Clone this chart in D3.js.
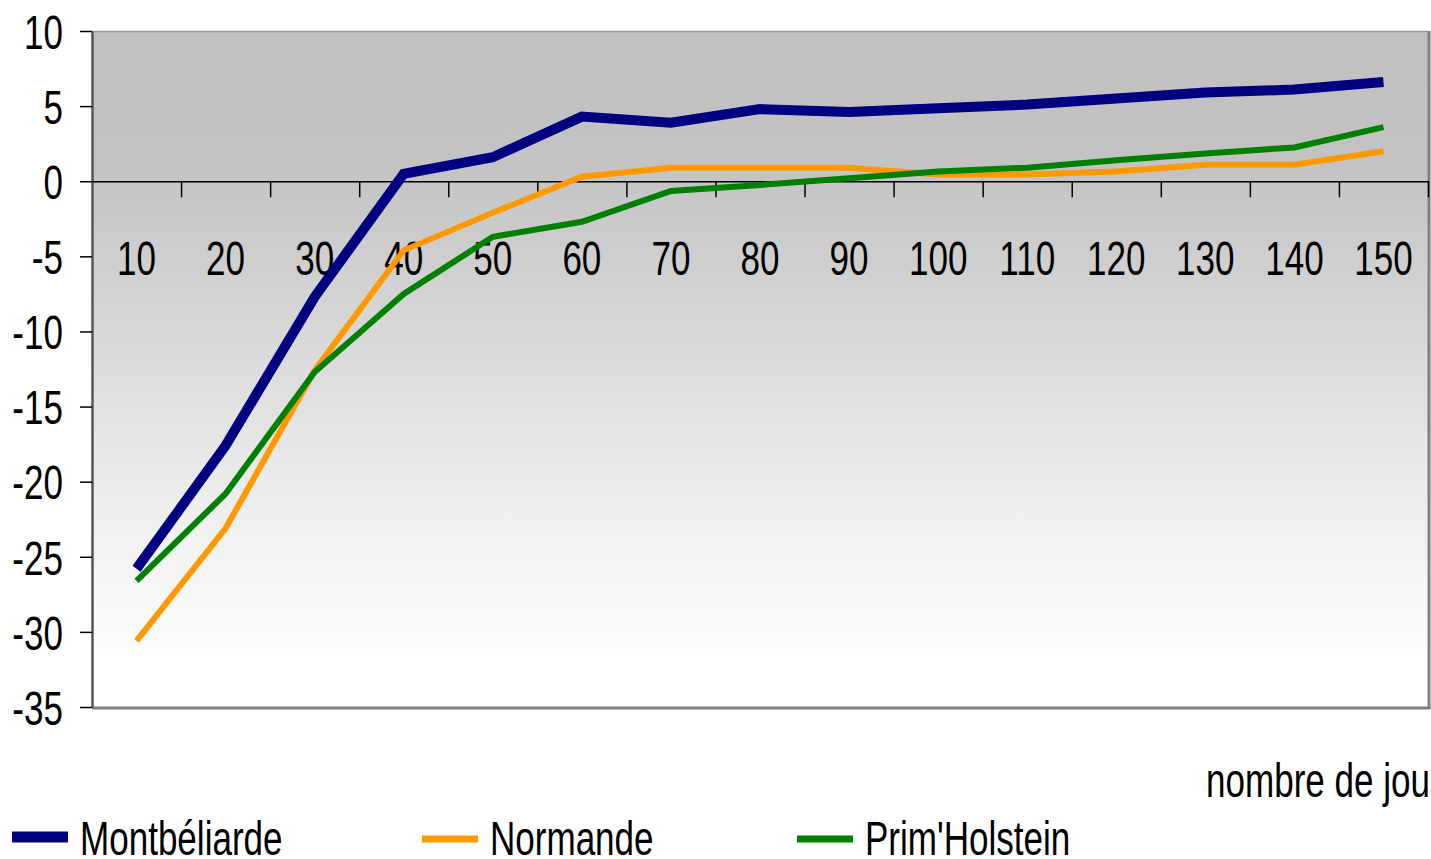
<!DOCTYPE html>
<html>
<head>
<meta charset="utf-8">
<script src="https://cdn.jsdelivr.net/npm/d3@7"></script>
<style>
  html, body { margin: 0; padding: 0; background: #fff; }
  svg { display: block; }
  text { font-family: "Liberation Sans", Arial, sans-serif; fill: #000; }
</style>
</head>
<body>
<svg id="chart" width="1431" height="859"></svg>
<script>
// Days of lactation (x categories)
const days = ["10","20","30","40","50","60","70","80","90","100","110","120","130","140","150"];
// Y axis ticks
const yTicks = [-35,-30,-25,-20,-15,-10,-5,0,5,10];
// Series values per breed
const montbeliarde = [-25.8,-17.6,-7.7,0.5,1.6,4.3,3.9,4.8,4.6,4.85,5.1,5.5,5.9,6.1,6.6];
const normande     = [-30.6,-23.1,-12.6,-4.6,-2.1,0.3,0.9,0.9,0.9,0.45,0.45,0.65,1.1,1.1,2.0];
const primHolstein = [-26.6,-20.8,-12.7,-7.5,-3.7,-2.7,-0.65,-0.25,0.2,0.65,0.9,1.4,1.85,2.25,3.6];

const seriesNames = ["Montbéliarde","Normande","Prim'Holstein"];
const seriesColors = ["#000080","#ff9900","#008000"];
const seriesWidths = [10,6,6];
const swatchWidths = [11,7,7];
const seriesData = [montbeliarde, normande, primHolstein];

const svg = d3.select("#chart");
const plotL = 92, plotR = 1428, plotT = 31, plotB = 707;
const SX = 0.73; // horizontal squeeze of the narrow labels
const FS = 48;

const x = d3.scaleBand().domain(days).range([plotL, plotR]).padding(0);
const xIdx = d3.scaleLinear().domain([0, days.length]).range([plotL, plotR]);
const y = d3.scaleLinear().domain([-35, 10]).range([plotB, plotT]);

// Plot background gradient
const defs = svg.append("defs");
const grad = defs.append("linearGradient").attr("id","bg")
  .attr("x1",0).attr("y1",0).attr("x2",0).attr("y2",1);
[[0,"#c0c0c0"],[0.2,"#c3c3c3"],[0.45,"#d8d8d8"],[0.7,"#eeeeee"],[0.9,"#fbfbfb"],[0.92,"#ffffff"],[1,"#ffffff"]]
  .forEach(([o,c]) => grad.append("stop").attr("offset",o).attr("stop-color",c));

svg.append("rect").attr("x",plotL).attr("y",plotT).attr("width",plotR-plotL).attr("height",plotB-plotT)
  .attr("fill","url(#bg)");

// Frame
svg.append("line").attr("x1",plotL).attr("x2",plotR).attr("y1",plotT+0.5).attr("y2",plotT+0.5)
  .attr("stroke","#999").attr("stroke-width",1.5);
svg.append("line").attr("x1",plotR+1).attr("x2",plotR+1).attr("y1",plotT).attr("y2",plotB+2)
  .attr("stroke","#808080").attr("stroke-width",3);
svg.append("line").attr("x1",plotL).attr("x2",plotR+2.5).attr("y1",plotB+1).attr("y2",plotB+1)
  .attr("stroke","#808080").attr("stroke-width",3);

// Y axis
const yAxis = svg.append("g").attr("transform",`translate(${plotL},0)`)
  .call(d3.axisLeft(y).tickValues(yTicks).tickSize(12).tickSizeOuter(0).tickFormat(d3.format("d")));
yAxis.select(".domain").attr("stroke","#555").attr("stroke-width",2.5);
yAxis.selectAll(".tick line").attr("stroke","#000").attr("stroke-width",1.5);
yAxis.selectAll(".tick text")
  .attr("font-size",FS).attr("transform",`scale(${SX},1)`)
  .attr("x",-29/SX).attr("dy","0.36em").attr("text-anchor","end")
  .text(d => d < 0 ? "-" + Math.abs(d) : d);

// X axis along zero: labels at category centres
const xAxis = svg.append("g").attr("transform",`translate(0,${y(0)})`)
  .call(d3.axisBottom(x).tickSize(0).tickSizeOuter(0).tickPadding(60));
xAxis.select(".domain").attr("stroke","#000").attr("stroke-width",1.5);
xAxis.selectAll(".tick text")
  .attr("font-size",FS).attr("transform",`scale(${SX},1)`)
  .attr("dy","0.71em");

// tick marks on category boundaries
const xTicks = svg.append("g").attr("transform",`translate(0,${y(0)})`)
  .call(d3.axisBottom(xIdx).tickValues(d3.range(1, days.length+1)).tickSize(16).tickSizeOuter(0).tickFormat(""));
xTicks.select(".domain").remove();
xTicks.selectAll(".tick line").attr("stroke","#000").attr("stroke-width",1.5);

// Series lines
const line = d3.line().x((d,i) => x(days[i]) + x.bandwidth()/2).y(d => y(d));
seriesData.forEach((vals, k) => {
  svg.append("path").datum(vals)
    .attr("d", line)
    .attr("fill","none")
    .attr("stroke", seriesColors[k])
    .attr("stroke-width", seriesWidths[k])
    .attr("stroke-linejoin","miter");
});

// Axis title
svg.append("text").attr("transform",`translate(1430,797) scale(${SX},1)`)
  .attr("font-size",FS).attr("text-anchor","end").text("nombre de jou");

// Legend
const legendX = [12, 422, 797];
seriesNames.forEach((name,k) => {
  const g = svg.append("g").attr("transform",`translate(${legendX[k]},0)`);
  const sy = 842.5 - swatchWidths[k] / 2;
  g.append("line").attr("x1",0).attr("x2",56).attr("y1",sy).attr("y2",sy)
    .attr("stroke",seriesColors[k]).attr("stroke-width",swatchWidths[k]);
  g.append("text").attr("transform",`translate(68,855) scale(${SX},1)`)
    .attr("font-size",FS).text(name);
});
</script>
</body>
</html>
